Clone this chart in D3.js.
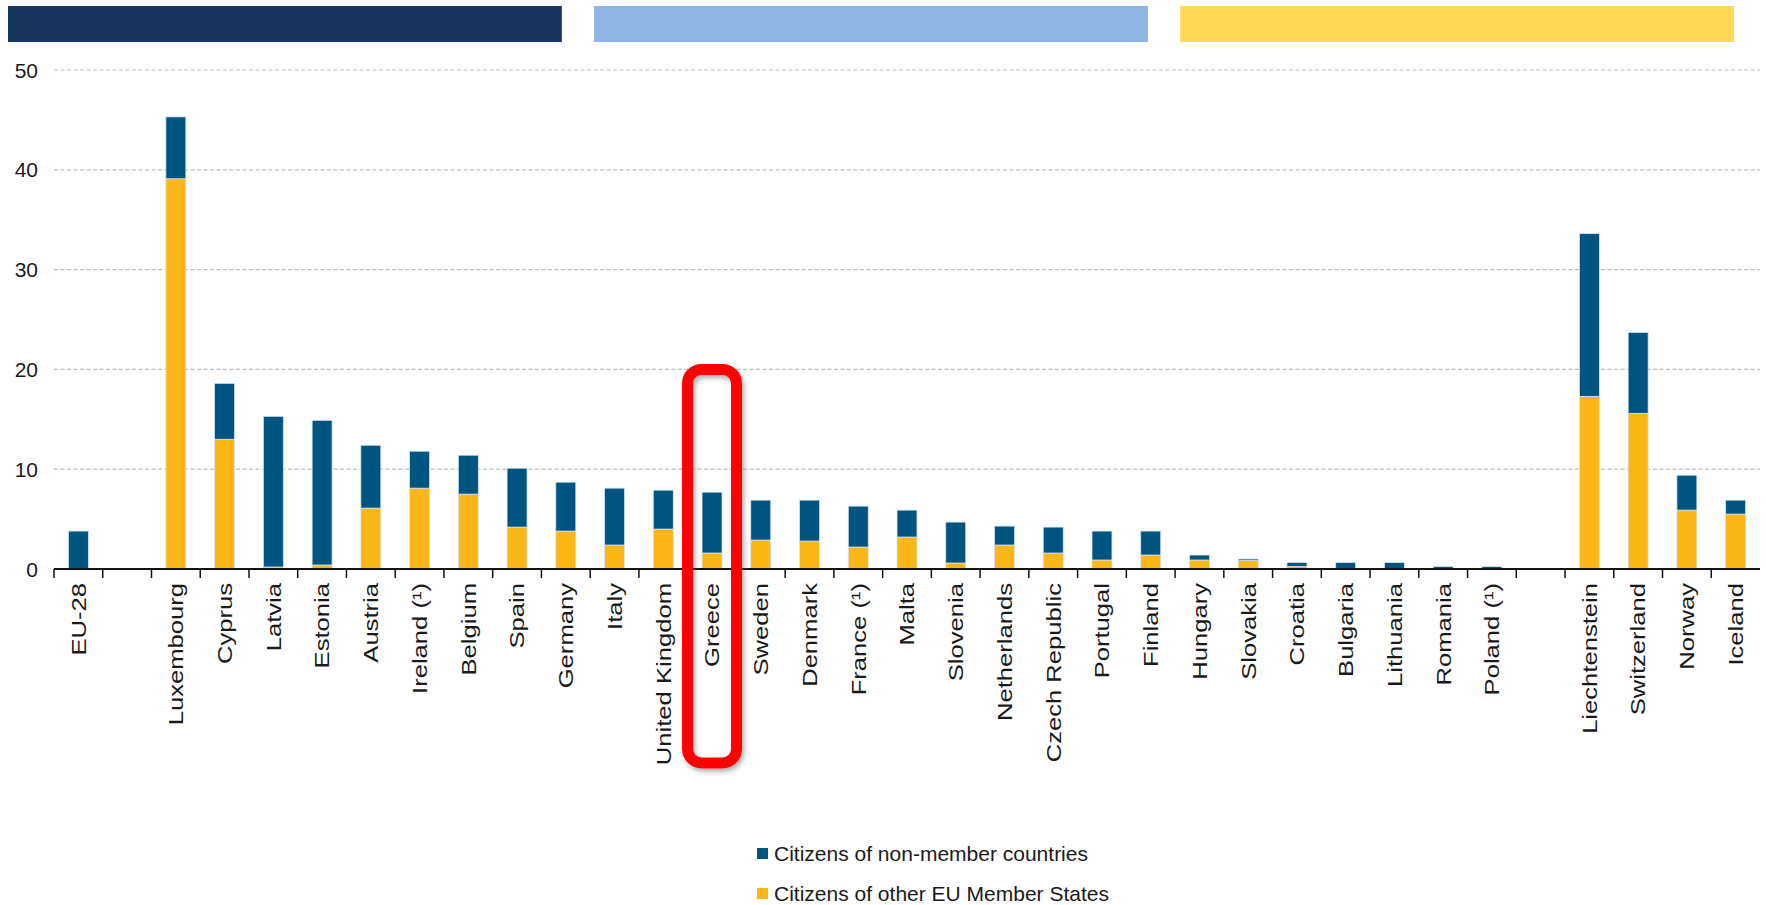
<!DOCTYPE html>
<html>
<head>
<meta charset="utf-8">
<script src="https://cdn.jsdelivr.net/npm/d3@7"></script>
<style>
  body { margin: 0; background: #fff; }
  text { font-family: "Liberation Sans", Arial, sans-serif; fill: #1a1a1a; }
</style>
</head>
<body>
<script>
// categories, empty strings are the spacer slots between groups
const categories = ["EU-28", "", "Luxembourg", "Cyprus", "Latvia", "Estonia", "Austria", "Ireland (¹)",
  "Belgium", "Spain", "Germany", "Italy", "United Kingdom", "Greece", "Sweden", "Denmark", "France (¹)",
  "Malta", "Slovenia", "Netherlands", "Czech Republic", "Portugal", "Finland", "Hungary", "Slovakia",
  "Croatia", "Bulgaria", "Lithuania", "Romania", "Poland (¹)", "", "Liechtenstein", "Switzerland",
  "Norway", "Iceland"];

const otherEU = [0, 0, 39.1, 13.0, 0.2, 0.4, 6.1, 8.1, 7.5, 4.2, 3.8, 2.4, 4.0, 1.6, 2.9, 2.8, 2.2,
  3.2, 0.6, 2.4, 1.6, 0.9, 1.4, 0.9, 0.85, 0.25, 0.05, 0.05, 0.05, 0.05, 0, 17.3, 15.6, 5.9, 5.5];

const nonMember = [3.8, 0, 6.2, 5.6, 15.1, 14.5, 6.3, 3.7, 3.9, 5.9, 4.9, 5.7, 3.9, 6.1, 4.0, 4.1, 4.1,
  2.7, 4.1, 1.9, 2.6, 2.9, 2.4, 0.5, 0.15, 0.4, 0.6, 0.6, 0.2, 0.2, 0, 16.3, 8.1, 3.5, 1.4];

const yTicks = [0, 10, 20, 30, 40, 50];

const seriesNames = ["Citizens of non-member countries", "Citizens of other EU Member States"];
const seriesColors = ["#005580", "#fbb718"];
const headerColors = ["#18365d", "#8db4e2", "#ffd957"];

const highlight = "Greece";

const W = 1766, H = 905;

const svg = d3.select("body")
  .append("svg")
  .attr("width", W)
  .attr("height", H);

const defs = svg.append("defs");
const shadow = defs.append("filter")
  .attr("id", "shadow")
  .attr("x", "-30%").attr("y", "-10%")
  .attr("width", "160%").attr("height", "120%");
shadow.append("feDropShadow")
  .attr("dx", 2).attr("dy", 3)
  .attr("stdDeviation", 2.5)
  .attr("flood-color", "#666")
  .attr("flood-opacity", 0.55);

// decorative header strips
const hx = d3.scaleBand().domain(d3.range(3)).range([8, 1734]).paddingInner(0.055);
svg.selectAll("rect.header")
  .data(headerColors)
  .enter()
  .append("rect")
  .attr("class", "header")
  .attr("x", (d, i) => hx(i))
  .attr("y", 6)
  .attr("width", hx.bandwidth())
  .attr("height", 36)
  .attr("fill", d => d);

const x = d3.scaleBand()
  .domain(d3.range(categories.length))
  .range([54, 1760])
  .paddingInner(0.59)
  .paddingOuter(0.295);

const y = d3.scaleLinear()
  .domain([0, 50])
  .range([569, 70]);

// grid
svg.selectAll("line.grid")
  .data(yTicks.filter(d => d > 0))
  .enter()
  .append("line")
  .attr("class", "grid")
  .attr("x1", x.range()[0])
  .attr("x2", x.range()[1])
  .attr("y1", d => y(d))
  .attr("y2", d => y(d))
  .attr("stroke", "#bdbdbd")
  .attr("stroke-width", 1.2)
  .attr("stroke-dasharray", "4,2.5");

svg.selectAll("text.ylab")
  .data(yTicks)
  .enter()
  .append("text")
  .attr("class", "ylab")
  .attr("x", 38)
  .attr("y", d => y(d))
  .attr("dy", "0.36em")
  .attr("text-anchor", "end")
  .style("font-size", "21px")
  .text(d => d);

// stacked bars
const rows = categories.map((c, i) => ({ i: i, nonMember: nonMember[i], otherEU: otherEU[i] }));
const stack = d3.stack().keys(["otherEU", "nonMember"]);
const layers = stack(rows);
const layerColor = { otherEU: seriesColors[1], nonMember: seriesColors[0] };

svg.selectAll("g.layer")
  .data(layers)
  .enter()
  .append("g")
  .attr("class", "layer")
  .attr("fill", d => layerColor[d.key])
  .selectAll("rect")
  .data(d => d.filter(p => p[1] - p[0] > 0))
  .enter()
  .append("rect")
  .attr("x", d => x(d.data.i))
  .attr("width", x.bandwidth())
  .attr("y", d => y(d[1]))
  .attr("height", d => y(d[0]) - y(d[1]))
  .attr("stroke", "#d6e3f0")
  .attr("stroke-width", 0.8);

// axis line and ticks at slot edges
const y0 = y(0);
svg.append("line")
  .attr("x1", x.range()[0])
  .attr("x2", x.range()[1])
  .attr("y1", y0)
  .attr("y2", y0)
  .attr("stroke", "#111")
  .attr("stroke-width", 2);

svg.selectAll("line.tick")
  .data(d3.range(categories.length))
  .enter()
  .append("line")
  .attr("class", "tick")
  .attr("x1", d => x.range()[0] + d * x.step())
  .attr("x2", d => x.range()[0] + d * x.step())
  .attr("y1", y0)
  .attr("y2", y0 + 9)
  .attr("stroke", "#111")
  .attr("stroke-width", 1.5);

// labels are a bit stretched along their length in the original
svg.selectAll("text.cat")
  .data(categories)
  .enter()
  .append("text")
  .attr("class", "cat")
  .attr("transform", (d, i) => "translate(" + (x(i) + x.bandwidth() / 2) + "," + (y0 + 14) + ") rotate(-90) scale(1.22,1)")
  .attr("dy", "0.35em")
  .attr("text-anchor", "end")
  .style("font-size", "21px")
  .text(d => d);

// highlight box
const hi = categories.indexOf(highlight);
const hcx = x(hi) + x.bandwidth() / 2;
svg.append("rect")
  .attr("x", hcx - 24.5)
  .attr("y", y(20))
  .attr("width", 49)
  .attr("height", y0 + 194 - y(20))
  .attr("rx", 14)
  .attr("fill", "none")
  .attr("stroke", "#ff0000")
  .attr("stroke-width", 11)
  .attr("filter", "url(#shadow)");

// legend
const legend = svg.selectAll("g.legend")
  .data(seriesNames)
  .enter()
  .append("g")
  .attr("class", "legend")
  .attr("transform", (d, i) => "translate(757," + (848 + i * 40) + ")");

legend.append("rect")
  .attr("width", 11)
  .attr("height", 11)
  .attr("fill", (d, i) => seriesColors[i]);

legend.append("text")
  .attr("x", 17)
  .attr("y", 13)
  .style("font-size", "21px")
  .text(d => d);
</script>
</body>
</html>
